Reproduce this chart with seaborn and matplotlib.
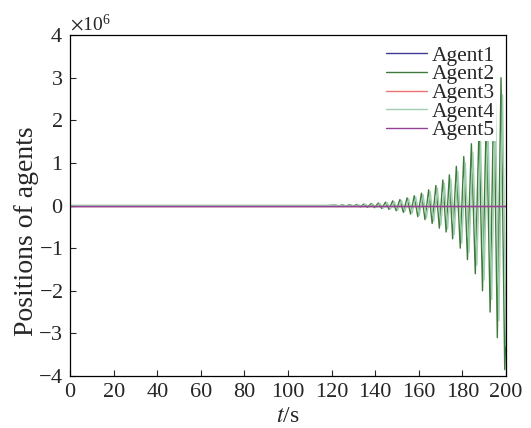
import numpy as np
import pandas as pd
import matplotlib
matplotlib.use("Agg")
import matplotlib.pyplot as plt
import seaborn as sns

# agents that stay at zero
flat_t = [0, 200]
flat_y = [0, 0]

# Agent2: extrema (units of 1e6)
agent2_t = [0, 118, 121.5, 123.2, 124.9, 126.5, 128.2, 129.8, 131.5, 133.1,
            134.8, 136.4, 138.1, 139.7, 141.4, 143.0, 144.7, 146.3, 148.0, 149.6,
            151.3, 152.9, 154.6, 156.2, 157.9, 159.5, 161.2, 162.8, 164.5, 166.1,
            167.8, 169.4, 171.0, 172.5, 174.0, 175.5, 177.2, 179.0, 180.6, 182.3,
            184.1, 185.9, 187.6, 189.2, 191.0, 192.7, 194.4, 196.0, 197.7, 199.4, 200.0]
agent2_y = [0, 0, 0.01, -0.01, 0.015, -0.015, 0.02, -0.02, 0.025, -0.03,
            0.035, -0.04, 0.045, -0.05, 0.06, -0.07, 0.08, -0.09, 0.11, -0.12,
            0.14, -0.16, 0.18, -0.2, 0.23, -0.26, 0.29, -0.33, 0.37, -0.42,
            0.47, -0.53, 0.6, -0.62, 0.72, -0.78, 0.92, -1.0, 1.15, -1.27,
            1.45, -1.6, 1.8, -2.0, 2.25, -2.5, 2.8, -3.1, 3.0, -3.85, -2.9]

# Agent4: lighter trace, slightly lagging and smaller
agent4_t = [0, 119, 122.2, 123.9, 125.6, 127.2, 128.9, 130.5, 132.2, 133.8,
            135.5, 137.1, 138.8, 140.4, 142.1, 143.7, 145.4, 147.0, 148.7, 150.3,
            152.0, 153.6, 155.3, 156.9, 158.6, 160.2, 161.9, 163.5, 165.2, 166.8,
            168.5, 170.1, 171.7, 173.2, 174.7, 176.2, 177.9, 179.7, 181.3, 183.0,
            184.8, 186.6, 188.3, 189.9, 191.7, 193.4, 195.1, 196.7, 198.4, 200.0]
agent4_y = [0, 0, 0.008, -0.009, 0.013, -0.014, 0.018, -0.02, 0.022, -0.027,
            0.03, -0.035, 0.04, -0.045, 0.05, -0.06, 0.07, -0.08, 0.095, -0.11,
            0.12, -0.14, 0.16, -0.18, 0.2, -0.23, 0.26, -0.29, 0.33, -0.37,
            0.41, -0.46, 0.52, -0.55, 0.62, -0.68, 0.8, -0.88, 1.0, -1.1,
            1.25, -1.4, 1.55, -1.75, 1.95, -2.2, 2.45, -2.7, 2.6, -3.3]

agents = ["Agent1", "Agent2", "Agent3", "Agent4", "Agent5"]
colors = ["#3c3c96", "#3f7a3c", "#f07272", "#9fcfae", "#964096"]

frames = []
series = {"Agent1": (flat_t, flat_y), "Agent2": (agent2_t, agent2_y),
          "Agent3": (flat_t, flat_y), "Agent4": (agent4_t, agent4_y),
          "Agent5": (flat_t, flat_y)}
for name in agents:
    t, y = series[name]
    frames.append(pd.DataFrame({"t": t, "pos": np.array(y) * 1e6, "agent": name}))
df = pd.concat(frames, ignore_index=True)

sns.set_style("ticks")
plt.rcParams["font.family"] = ["Liberation Serif", "DejaVu Serif"]
plt.rcParams["mathtext.fontset"] = "stix"

fig = plt.figure(figsize=(5.31, 4.28), dpi=100)
ax = fig.add_axes([0.132, 0.1215, 0.821, 0.7965])

sns.lineplot(data=df, x="t", y="pos", hue="agent", hue_order=agents,
             palette=colors, estimator=None, sort=False, linewidth=1.0, ax=ax)

ax.set_xlim(0, 200)
ax.set_ylim(-4e6, 4e6)
ax.set_xticks(range(0, 201, 20))
ax.set_yticks(np.arange(-4, 5) * 1e6)
ax.ticklabel_format(axis="y", style="sci", scilimits=(6, 6), useMathText=True)
ax.yaxis.get_offset_text().set_fontsize(14)
ax.tick_params(direction="in", length=4, width=0.8, labelsize=16, pad=5)
for s in ax.spines.values():
    s.set_linewidth(0.9)
    s.set_color("black")

ax.set_xlabel("$t$/s", fontsize=17, labelpad=3)
ax.set_ylabel("Positions of agents", fontsize=20)
ax.yaxis.set_label_coords(-0.072, 0.425)

leg = ax.legend(loc="upper right", fontsize=15.5, frameon=True, fancybox=False,
                framealpha=1, edgecolor="none", facecolor="white",
                labelspacing=-0.07, handlelength=1.9, handletextpad=0.25,
                borderpad=0.05, borderaxespad=0.45)

fig.savefig("out.png", dpi=100)
